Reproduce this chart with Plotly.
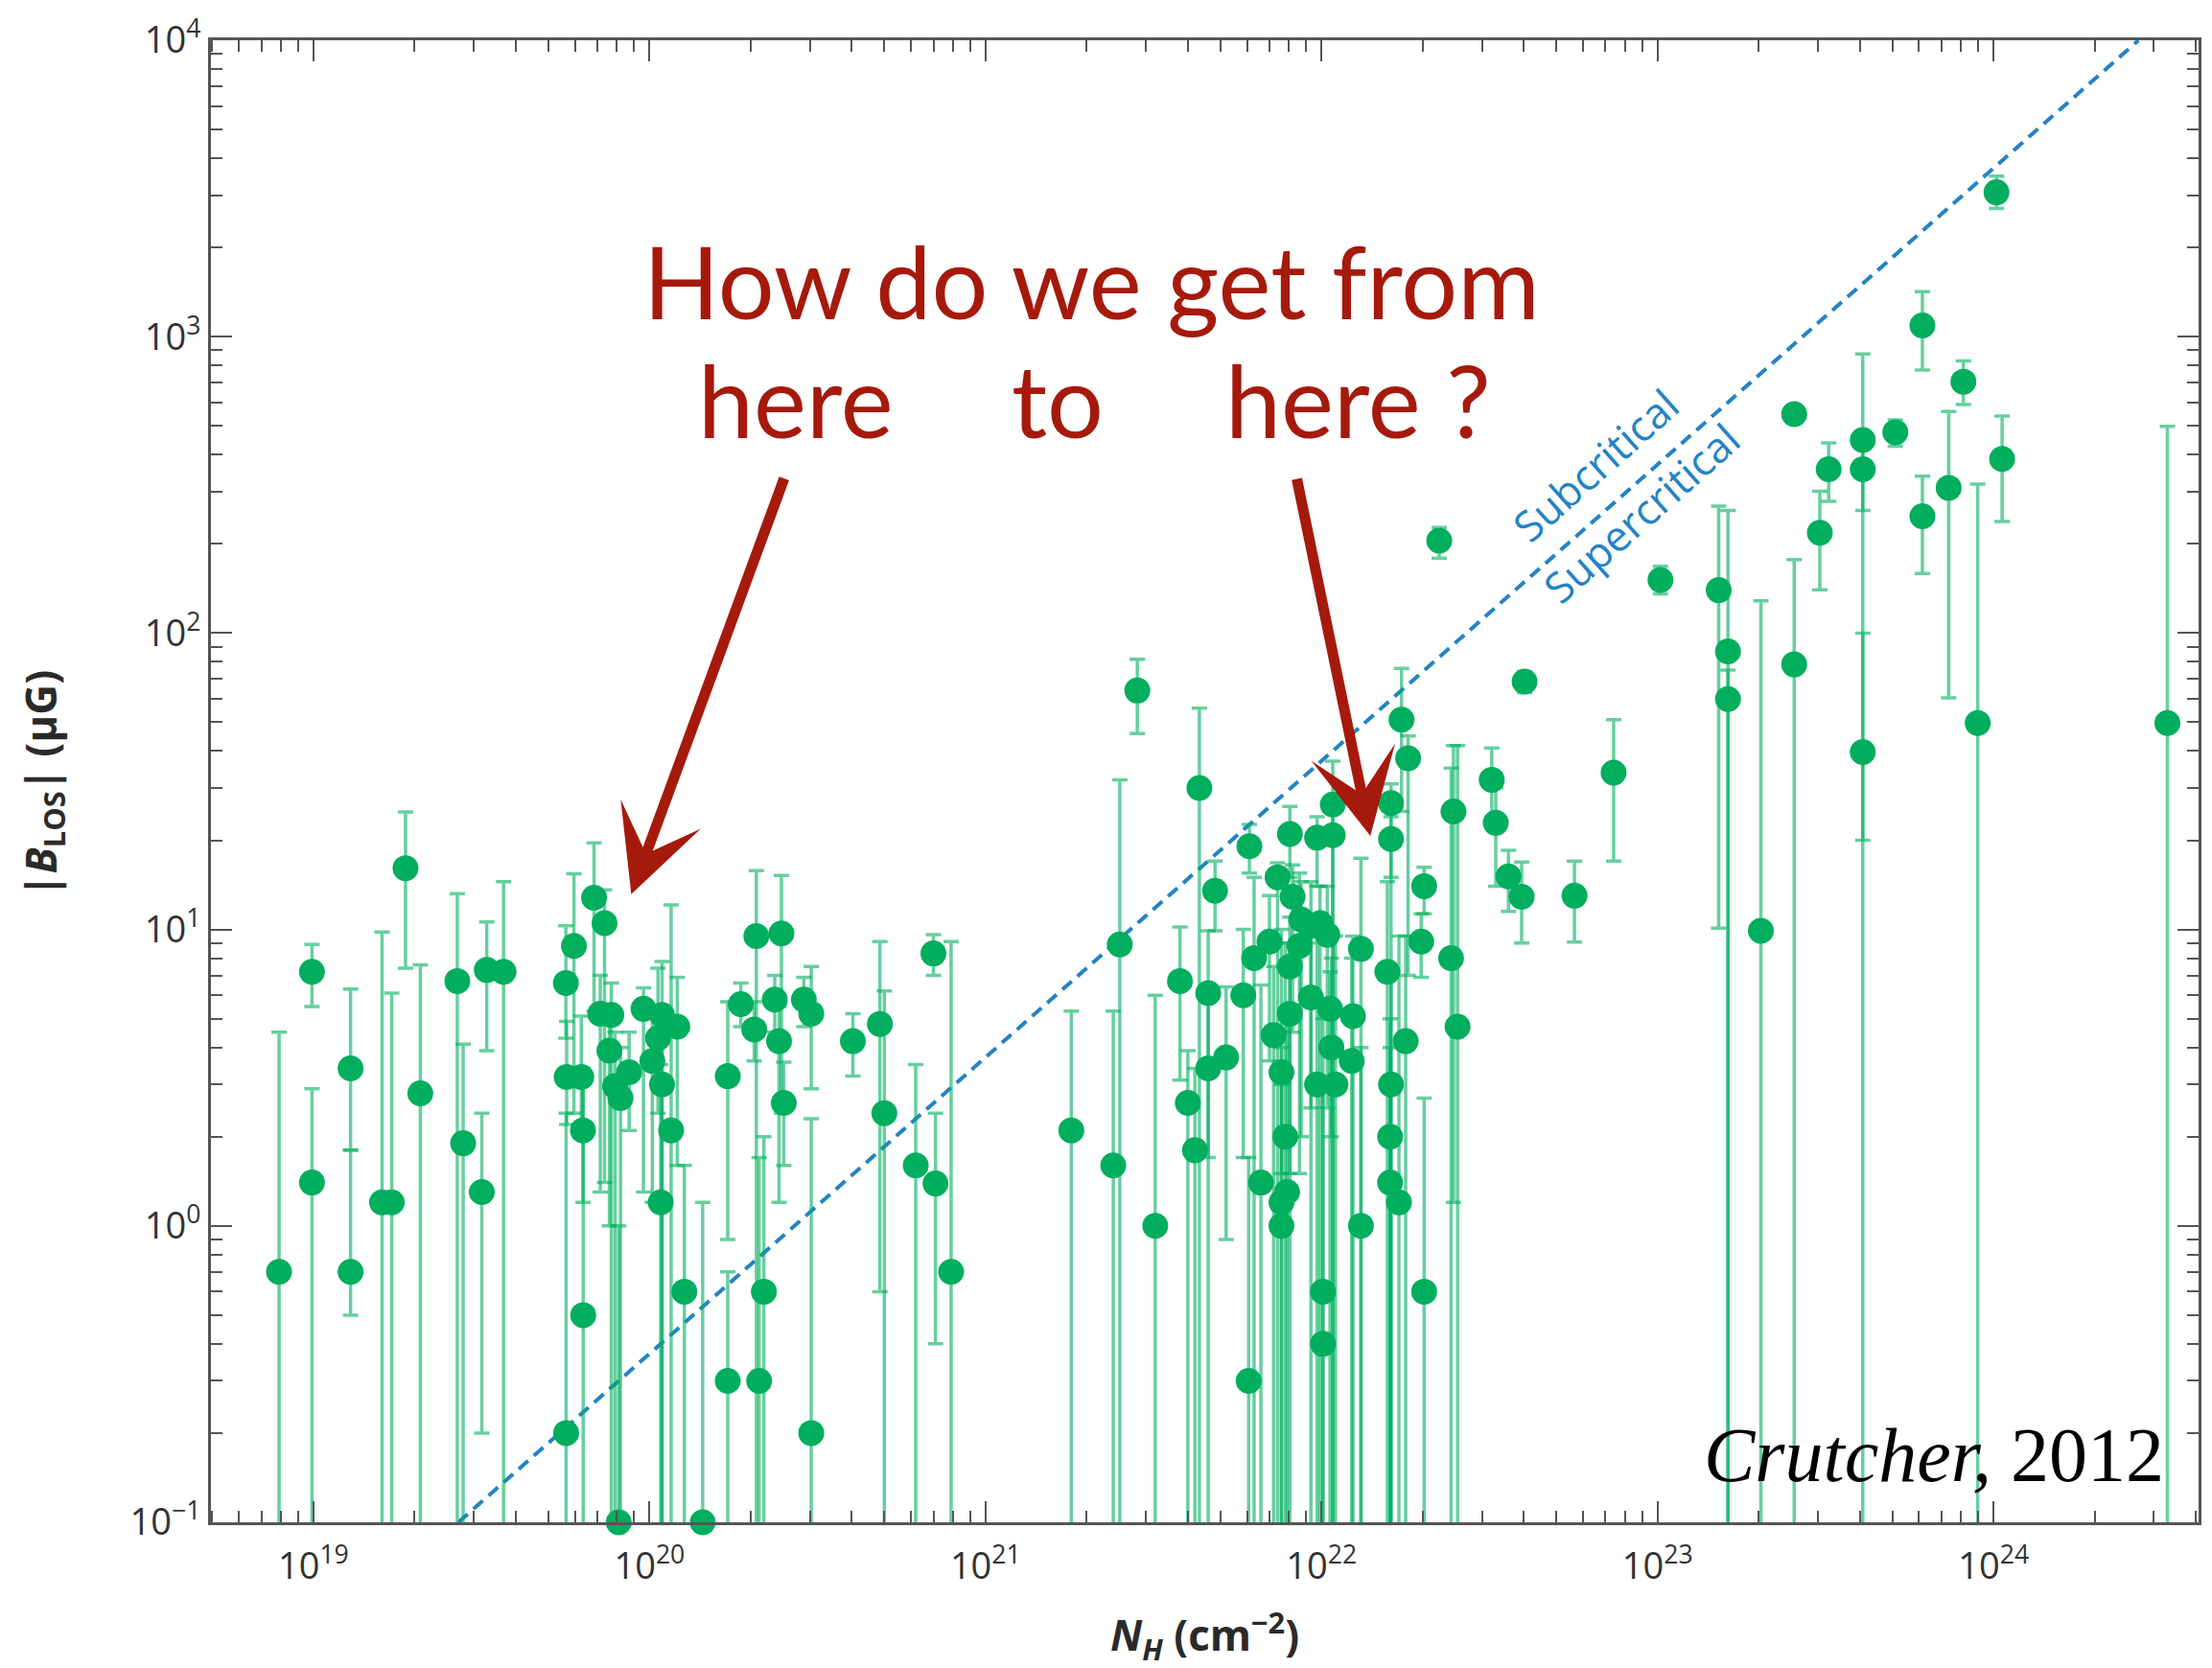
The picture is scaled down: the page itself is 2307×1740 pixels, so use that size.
import plotly.graph_objects as go

# ---------------- data ----------------
N_H = [
    7.9e18, 9.9e18, 9.9e18, 1.29e19, 1.29e19, 1.60e19, 1.71e19, 1.88e19, 2.08e19, 2.68e19,
    2.79e19, 3.17e19, 3.28e19, 3.68e19,
    5.64e19, 5.96e19, 6.84e19, 7.35e19, 7.14e19, 7.7e19, 7.6e19, 5.67e19, 6.27e19, 8.7e19,
    7.9e19, 8.2e19, 6.34e19, 9.6e19, 1.09e20, 1.21e20, 1.06e20, 1.02e20, 1.09e20, 1.16e20,
    1.08e20, 6.35e19, 5.65e19, 8.1e19, 1.44e20, 1.27e20,
    1.71e20, 1.71e20, 1.87e20, 2.05e20, 2.08e20, 2.19e20, 2.12e20, 2.36e20, 2.47e20, 2.43e20,
    2.51e20, 2.88e20, 3.03e20, 3.03e20, 4.03e20, 4.85e20, 5.0e20, 6.2e20, 7.0e20, 7.1e20,
    7.9e20,
    1.80e21, 2.40e21, 2.51e21, 2.83e21, 3.2e21, 3.79e21, 4.0e21, 4.2e21, 4.33e21, 4.6e21,
    4.6e21, 4.82e21, 5.2e21, 5.85e21, 6.07e21, 6.1e21, 6.3e21, 6.6e21, 7.0e21, 7.2e21,
    7.4e21, 7.6e21, 7.8e21, 7.6e21, 7.9e21, 7.6e21, 8.05e21, 8.2e21, 8.7e21, 9.3e21,
    8.6e21, 8.05e21, 8.05e21, 9.3e21, 9.7e21, 1.08e22, 9.9e21, 1.04e22, 9.7e21, 1.10e22,
    1.01e22, 1.01e22, 1.06e22, 1.07e22, 1.08e22, 1.24e22, 1.23e22, 1.31e22, 1.31e22, 1.57e22,
    1.61e22, 1.61e22, 1.61e22, 1.60e22, 1.60e22, 1.70e22, 1.73e22, 1.81e22, 1.78e22, 2.02e22,
    1.98e22, 2.02e22, 2.47e22, 2.43e22, 2.54e22, 3.21e22, 3.3e22, 3.6e22, 3.94e22, 4.02e22,
    2.24e22,
    5.66e22, 7.4e22, 1.02e23, 1.52e23, 1.62e23, 1.62e23, 2.03e23, 2.55e23, 2.55e23, 3.04e23,
    3.23e23, 4.08e23, 4.08e23, 4.08e23, 5.1e23, 6.14e23, 6.14e23, 7.35e23, 8.13e23, 8.97e23,
    1.06e24, 1.02e24, 3.29e24,
]
B_los = [
    0.70, 7.2, 1.4, 3.4, 0.70, 1.2, 1.2, 16.1, 2.8, 6.7,
    1.9, 1.3, 7.3, 7.2,
    6.6, 8.8, 12.8, 10.5, 5.2, 5.15, 3.9, 3.18, 3.18, 3.3,
    2.96, 2.7, 2.1, 5.4, 5.15, 4.7, 4.3, 3.6, 3.0, 2.1,
    1.2, 0.5, 0.2, 0.10, 0.10, 0.6,
    3.2, 0.3, 5.6, 4.6, 9.5, 0.6, 0.3, 5.8, 9.7, 4.2,
    2.6, 5.8, 5.2, 0.2, 4.2, 4.8, 2.4, 1.6, 8.3, 1.39,
    0.70,
    2.1, 1.6, 8.9, 64, 1.0, 6.7, 2.6, 1.8, 30, 6.1,
    3.4, 13.5, 3.7, 6.0, 0.30, 19.1, 8.0, 1.4, 9.1, 4.4,
    15.0, 3.3, 2.0, 1.2, 1.3, 1.0, 21, 12.9, 10.8, 10.3,
    8.8, 7.5, 5.2, 5.9, 20.4, 20.8, 10.5, 9.6, 3.0, 3.0,
    0.60, 0.40, 5.4, 4.0, 26.4, 5.1, 3.6, 8.6, 1.0, 7.2,
    20.2, 26.7, 3.0, 2.0, 1.4, 1.2, 51, 37.8, 4.2, 14.0,
    9.1, 0.6, 25, 8.0, 4.7, 32, 22.9, 15.1, 12.9, 68.6,
    205,
    13.0, 33.8, 151, 139.6, 86.7, 59.9, 9.9, 548, 78.4, 218,
    357, 448, 357, 39.7, 476, 1091, 248, 309, 705, 49.7,
    387, 3070, 49.7,
]
B_hi = [
    4.5, 8.9, 2.9, 6.3, 1.8, 9.8, 6.1, 24.9, 7.6, 13.2,
    4.1, 2.4, 10.6, 14.5,
    10.3, 15.4, 19.6, 13.6, 7.0, 6.6, 5.6, 4.9, 5.1, 4.5,
    4.5, 4.0, 3.4, 6.35, 7.8, 6.9, 7.4, 5.3, 4.5, 12.1,
    3.5, 3.0, 2.4, 1.0, 1.2, 1.6,
    5.7, 0.7, 6.6, 5.7, 15.8, 2.0, 1.7, 7.0, 15.2, 5.5,
    3.57, 6.9, 7.5, 2.3, 5.2, 9.1, 6.2, 3.5, 9.6, 2.4,
    9.1,
    5.3, 5.3, 32, 81.6, 6.0, 10.2, 3.9, 3.4, 55.8, 9.9,
    5.8, 17, 6.4, 10.0, 1.7, 22.6, 15, 6.5, 13, 7.5,
    16.8, 10, 9, 4, 5, 3, 26, 16.5, 14.5, 14.5,
    15.5, 11, 9, 9.5, 24, 26, 14, 14, 9, 9.5,
    5, 3, 7.2, 8, 37, 9.5, 8, 17.4, 4, 14.5,
    24, 31, 7, 5, 4, 9.5, 76, 45, 9.5, 16.2,
    11.3, 2.7, 41.7, 35, 41.7, 41, 30, 18.5, 16.9, 74,
    227,
    17, 51, 168, 268, 259, 75, 128.5, 560, 177, 301,
    438, 875, 420, 100, 524, 1419, 338, 559, 828, 318,
    540, 3480, 498,
]
B_lo = [
    0.01, 5.5, 0.01, 1.8, 0.5, 0.01, 0.01, 7.4, 0.01, 0.01,
    0.01, 0.20, 3.9, 0.01,
    4.3, 2.4, 5.3, 1.4, 1.3, 0.01, 1.0, 2.2, 2.0, 2.1,
    0.01, 0.01, 1.2, 1.3, 0.01, 1.6, 2.4, 1.2, 0.01, 0.01,
    0.01, 0.01, 0.01, 0.01, 0.01, 0.01,
    0.9, 0.01, 4.7, 3.6, 0.01, 0.01, 0.01, 4.5, 2.4, 1.2,
    1.6, 4.7, 2.9, 0.01, 3.2, 0.6, 0.01, 0.01, 7.0, 0.40,
    0.01,
    0.01, 0.01, 0.01, 45.8, 0.01, 3.1, 0.01, 0.01, 0.01, 1.7,
    0.01, 9.9, 0.9, 1.7, 0.01, 15.5, 0.01, 0.01, 3.6, 0.01,
    0.01, 1.5, 0.01, 0.01, 0.01, 0.01, 15, 4.5, 2, 2.5,
    1.5, 0.01, 1.5, 0.01, 14, 0.01, 0.01, 2.5, 0.01, 0.01,
    0.01, 0.01, 0.01, 2.0, 0.01, 0.01, 0.01, 0.01, 0.01, 0.01,
    15, 0.01, 0.01, 0.01, 0.01, 0.01, 25, 7, 0.01, 11.3,
    6.9, 0.01, 1.2, 0.01, 0.01, 23, 14, 11.5, 9.0, 63,
    179,
    9.06, 17, 135.5, 10.1, 0.01, 0.01, 0.01, 536, 0.01, 140,
    278, 259, 0.01, 20, 427, 771, 159, 60.5, 590, 0.01,
    238, 2705, 0.01,
]

# critical mass-to-flux line (end points)
crit_N = [2.7e19, 2.7e24]
crit_B = [0.1, 1.0e4]

x_tickvals = [1e19, 1e20, 1e21, 1e22, 1e23, 1e24]
x_ticktext = ["10<sup>19</sup>", "10<sup>20</sup>", "10<sup>21</sup>",
              "10<sup>22</sup>", "10<sup>23</sup>", "10<sup>24</sup>"]
y_tickvals = [0.1, 1, 10, 100, 1000, 10000]
y_ticktext = ["10<sup>\u22121</sup>", "10<sup>0</sup>", "10<sup>1</sup>",
              "10<sup>2</sup>", "10<sup>3</sup>", "10<sup>4</sup>"]

# ---------------- styling ----------------
GREEN = "#00ae5e"
ERR = "rgba(0,175,95,0.6)"
BLUE = "#2483c5"
RED = "#a51a0c"
AXC = "#555555"

W, H = 2307, 1740
L, R, T, BOT = 220, 2296, 31, 1588


def px(X, Y):
    return (X - L) / (R - L), (BOT - Y) / (BOT - T)


plus = [h - b for h, b in zip(B_hi, B_los)]
minus = [b - l for b, l in zip(B_los, B_lo)]

fig = go.Figure()

fig.add_trace(go.Scatter(
    x=crit_N, y=crit_B, mode="lines",
    line=dict(color=BLUE, width=4, dash="13px,8px"),
    hoverinfo="skip"))

fig.add_trace(go.Scatter(
    x=N_H, y=B_los, mode="markers",
    marker=dict(size=2, color="rgba(0,0,0,0)"),
    error_y=dict(type="data", symmetric=False, array=plus, arrayminus=minus,
                 color=ERR, thickness=3.5, width=8),
    hoverinfo="skip"))

fig.add_trace(go.Scatter(
    x=N_H, y=B_los, mode="markers",
    marker=dict(size=27, color=GREEN, line=dict(width=0)),
    cliponaxis=False, hoverinfo="skip"))

axis_common = dict(
    type="log", ticks="inside", ticklen=22, tickwidth=2, tickcolor=AXC,
    showline=True, linewidth=3, linecolor=AXC, mirror="ticks",
    showgrid=False, zeroline=False,
    tickfont=dict(family="Open Sans", size=38, color="#333333"),
    tickmode="array",
    minor=dict(ticks="inside", ticklen=12, tickwidth=2, tickcolor=AXC,
               dtick="D1", showgrid=False),
)

fig.update_xaxes(range=[18.695, 24.61], tickvals=x_tickvals, ticktext=x_ticktext,
                 ticklabelstandoff=10, **axis_common)
fig.update_yaxes(range=[-1, 4], tickvals=y_tickvals, ticktext=y_ticktext,
                 **axis_common)

ann = []


def text_ann(X, Y, text, size, color, family, angle=0, xanchor="center"):
    x, y = px(X, Y)
    ann.append(dict(xref="paper", yref="paper", x=x, y=y, text=text,
                    showarrow=False, xanchor=xanchor, yanchor="middle",
                    textangle=angle,
                    font=dict(size=size, color=color, family=family)))


# axis titles
text_ann(44, 812, "<b>|<i>B</i><sub>LOS</sub>| (\u03bcG)</b>", 44, "#2a2a2a", "Open Sans", angle=-90)
text_ann(1258, 1707, "<b><i>N<sub>H</sub></i> (cm<sup>\u22122</sup>)</b>", 44, "#2a2a2a", "Open Sans")

# red question
text_ann(1140, 283, "How do we get from", 104, RED, "Lato")
text_ann(831, 408, "here", 104, RED, "Lato")
text_ann(1104, 408, "to", 104, RED, "Lato")
text_ann(1418, 408, "here ?", 104, RED, "Lato")

# line labels
text_ann(1666, 477, "Subcritical", 44, BLUE, "Open Sans", angle=-41.6)
text_ann(1714, 528, "Supercritical", 44, BLUE, "Open Sans", angle=-41.6)

# citation
text_ann(2262, 1518, "<i>Crutcher,</i> 2012", 80, "black", "Liberation Serif", xanchor="right")

# arrows
for (tx, ty), (hx, hy) in [((819, 493), (659, 928)), ((1354, 493), (1431, 867))]:
    x, y = px(hx, hy)
    ann.append(dict(xref="paper", yref="paper", x=x, y=y, text="",
                    showarrow=True, ax=tx - hx, ay=ty - hy, axref="pixel", ayref="pixel",
                    arrowcolor=RED, arrowwidth=11, arrowhead=3, arrowsize=1.35,
                    standoff=0))

fig.update_layout(
    width=W, height=H,
    margin=dict(l=L, r=W - R, t=T, b=H - BOT),
    paper_bgcolor="white", plot_bgcolor="white",
    showlegend=False,
    annotations=ann,
)

fig.write_html("out.html")
